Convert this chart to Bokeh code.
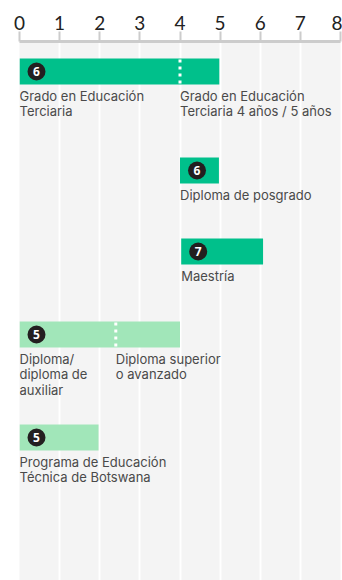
from bokeh.plotting import figure
from bokeh.models import Range1d, FixedTicker, ColumnDataSource
from bokeh.core.properties import value
from bokeh.embed import file_html
from bokeh.resources import INLINE

# ---- data ----
levels = [6, 6, 7, 5, 5]
starts = [0, 4, 4.03, 0, 0]
ends = [4.98, 4.97, 6.07, 4, 1.97]
splits = [4, None, None, 2.4, None]
labels_a = ["Grado en Educación\nTerciaria", "Diploma de posgrado", "Maestría",
            "Diploma/\ndiploma de\nauxiliar", "Programa de Educación\nTécnica de Botswana"]
labels_b = ["Grado en Educación\nTerciaria 4 años / 5 años", "", "",
            "Diploma superior\no avanzado", ""]
x_ticks = [0, 1, 2, 3, 4, 5, 6, 7, 8]

# ---- layout / style ----
W, H = 342, 580
LEFT, RIGHT, TOP = 19, 2, 41
FRAME_W = W - LEFT - RIGHT
FRAME_H = H - TOP
PX = FRAME_W / 8.0
row_tops = [17, 116, 197, 280, 383]
BAR_H = 26
DARK = "#00c08b"
LIGHT = "#a1e6b9"
TXT = "#4a4a4a"
FONT = "Inter"
colors = [DARK if lv >= 6 else LIGHT for lv in levels]

p = figure(width=W, height=H, output_backend="svg", toolbar_location=None,
           x_range=Range1d(0, 8), y_range=Range1d(FRAME_H, 0),
           x_axis_location="above", y_axis_location=None,
           min_border_left=LEFT, min_border_right=RIGHT, min_border_top=TOP,
           min_border_bottom=0)
p.outline_line_color = None
p.background_fill_color = "#f4f4f4"
p.border_fill_color = "white"
p.ygrid.visible = False
p.xgrid.ticker = FixedTicker(ticks=x_ticks)
p.xgrid.grid_line_color = "white"
p.xgrid.grid_line_width = 2
p.xgrid.grid_line_alpha = 1

ax = p.xaxis[0]
ax.ticker = FixedTicker(ticks=x_ticks)
ax.minor_tick_line_color = None
ax.axis_line_color = "#cccccc"
ax.axis_line_width = 3
ax.major_tick_line_color = "#cccccc"
ax.major_tick_line_width = 2
ax.major_tick_out = 10
ax.major_tick_in = 0
ax.major_label_standoff = 2
ax.major_label_text_font = "Lato"
ax.major_label_text_font_size = "19px"
ax.major_label_text_color = "#222222"

tops = row_tops
bottoms = [t + BAR_H for t in tops]
src = ColumnDataSource(dict(left=starts, right=ends, top=tops, bottom=bottoms,
                            color=colors, mid=[t + BAR_H / 2 for t in tops],
                            cx=[s + 17 / PX for s in starts],
                            num=[str(l) for l in levels],
                            la=labels_a, ly=[b + 3 for b in bottoms]))
p.quad(left="left", right="right", top="top", bottom="bottom", color="color",
       line_color=None, source=src)

# dotted separators
sx = [s for s in splits if s is not None]
st = [tops[i] for i, s in enumerate(splits) if s is not None]
sb = [bottoms[i] for i, s in enumerate(splits) if s is not None]
p.segment(x0=sx, x1=sx, y0=[t + 1 for t in st], y1=sb, line_color="white",
          line_width=3, line_dash="3 4")

p.scatter(x="cx", y="mid", size=18, color="#231f20", line_color=None, source=src)
p.text(x="cx", y="mid", text="num", text_color="white", text_font=value("Open Sans"),
       text_font_style="bold", text_font_size="12px", text_align="center",
       text_baseline="middle", source=src)

p.text(x="left", y="ly", text="la", text_color=TXT, text_font=value(FONT),
       text_font_size="13px", text_baseline="top", text_align="left",
       text_line_height=0.97, source=src)

bx = [splits[i] for i, t in enumerate(labels_b) if t]
by = [bottoms[i] + 3 for i, t in enumerate(labels_b) if t]
bt = [t for t in labels_b if t]
p.text(x=bx, y=by, text=bt, text_color=TXT, text_font=value(FONT),
       text_font_size="13px", text_baseline="top", text_align="left",
       text_line_height=0.97)

open("out.html", "w").write(file_html(p, INLINE))
